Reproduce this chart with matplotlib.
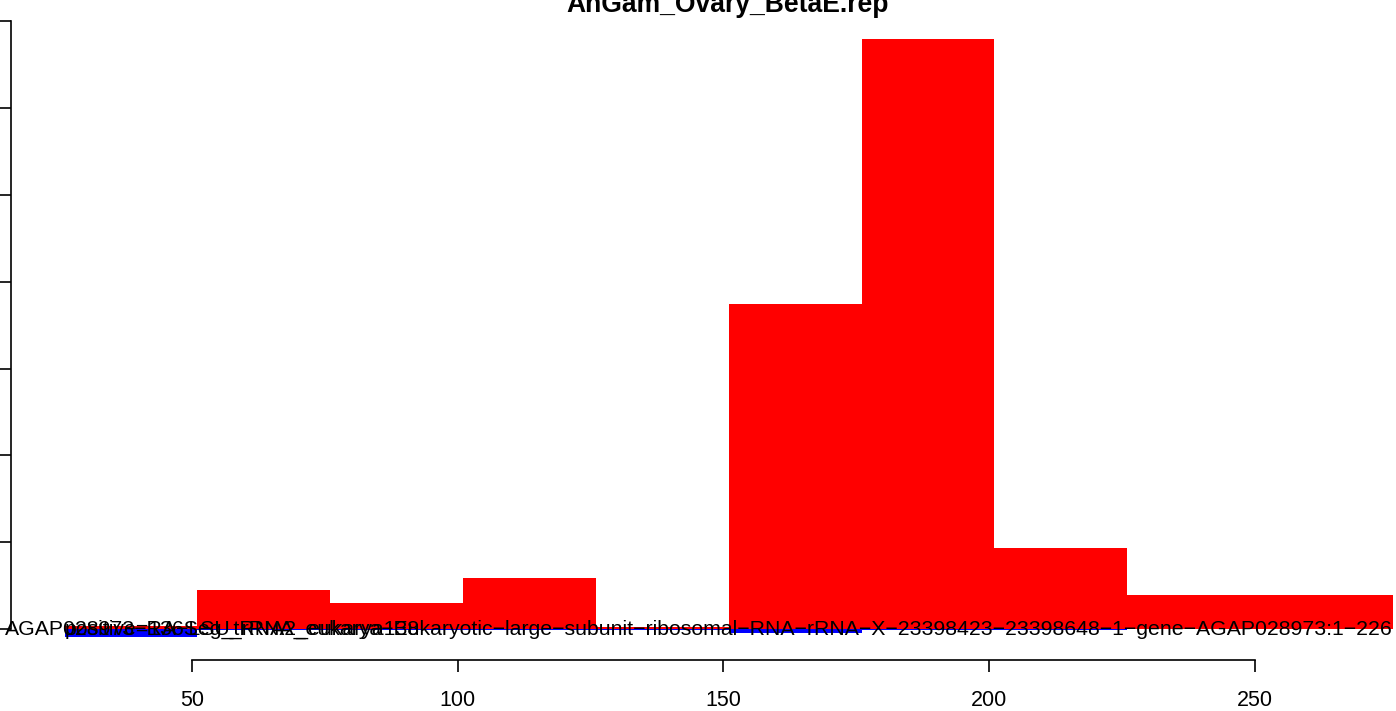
import matplotlib
matplotlib.use("Agg")
import matplotlib.pyplot as plt
import matplotlib.transforms as mtransforms

plt.rcParams['font.family'] = ['Liberation Sans', 'DejaVu Sans']

# ---- data ----
title = "AnGam_Ovary_BetaE.rep"
bin_starts = [26, 51, 76, 101, 126, 151, 176, 201, 226, 251]
bin_width = 25
pos_counts = [3.5, 45, 30, 59, 2.3, 375, 680, 93, 39, 39]
neg_counts = [-9, -1, -1, -1, -1, -5, -1, -1, 0, 0]
x_ticks = [50, 100, 150, 200, 250]
y_ticks = [0, 100, 200, 300, 400, 500, 600, 700]
long_label = ("AGAP028973\u2212RA\u2212LSU_rRNA_eukarya\u2212Eukaryotic\u2212large\u2212subunit"
              "\u2212ribosomal\u2212RNA\u2212rRNA\u2212X\u221223398423\u221223398648\u22121\u2212gene"
              "\u2212AGAP028973:1\u2212226")
short_label = "positive=136Seg_tRNA2_eukarya138"

W, H = 1396, 711
fig = plt.figure(figsize=(W / 100, H / 100), dpi=100)

ax_left_px, ax_right_px = 11, 1446
ax_top_px, ax_bot_px = 15, 660
ax = fig.add_axes([ax_left_px / W, 1 - ax_bot_px / H,
                   (ax_right_px - ax_left_px) / W, (ax_bot_px - ax_top_px) / H])
ax.set_xlim(15.93, 286)
ax.set_ylim(-35.7, 707.4)

ax.bar(bin_starts, pos_counts, width=bin_width, align='edge', color='#FF0000', linewidth=0)
ax.bar(bin_starts, neg_counts, width=bin_width, align='edge', color='#0000FF', linewidth=0)

fs = 15.3
blend = mtransforms.blended_transform_factory(fig.transFigure, ax.transData)
ax.text(1393 / W, 0.0, long_label, transform=blend, fontsize=fs,
        ha='right', va='center', color='black')
ax.text(26, 0, short_label, fontsize=fs, ha='left', va='center', color='black')

for s in ['top', 'right']:
    ax.spines[s].set_visible(False)
ax.spines['left'].set_bounds(0, 700)
ax.spines['bottom'].set_bounds(50, 250)
for s in ['left', 'bottom']:
    ax.spines[s].set_linewidth(1.2)

ax.set_xticks(x_ticks)
ax.set_xticklabels([str(v) for v in x_ticks], fontsize=15.5)
ax.set_yticks(y_ticks)
ax.set_yticklabels([])
ax.tick_params(axis='x', length=8.6, width=1.2, pad=13)
ax.tick_params(axis='y', length=8.6, width=1.2)

fig.text(728 / W, 1 - 12 / H, title, ha='center', va='baseline',
         fontsize=19.1, fontweight='bold')

fig.savefig("out.png", dpi=100)
